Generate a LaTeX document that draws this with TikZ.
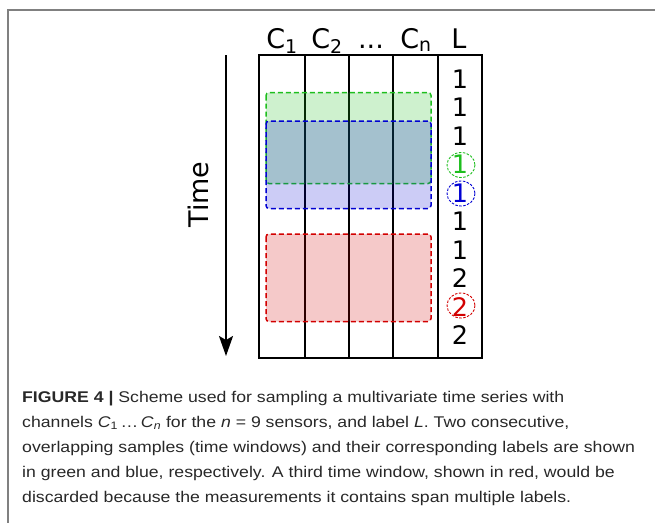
\documentclass[tikz,border=0pt]{standalone}
\usepackage{fontspec}
\setmainfont{DejaVu Sans}
\newfontfamily\capfont[FakeStretch=1.14]{Liberation Sans}
\usetikzlibrary{arrows.meta}
\definecolor{wgreen}{RGB}{30,190,30}
\definecolor{wblue}{RGB}{0,0,210}
\definecolor{wred}{RGB}{210,0,0}
\definecolor{framegray}{RGB}{128,128,128}
\definecolor{captext}{RGB}{40,40,40}
\begin{document}
\begin{tikzpicture}[x=1pt,y=-1pt,
  tablegrid/.style={line width=2.8pt, black},
  win/.style={rounded corners=3pt, line width=1.5pt, dash pattern=on 5pt off 3pt},
  hdr/.style={anchor=base, font=\fontsize{27}{27}\selectfont, inner sep=0pt},
  lab/.style={anchor=base, font=\fontsize{25.5}{25.5}\selectfont, inner sep=0pt},
  ring/.style={line width=0.9pt, dash pattern=on 2.5pt off 1.5pt},
  captionline/.style={anchor=base west, inner sep=0pt, font=\capfont\fontsize{15.5}{18}\selectfont, text=captext}
]
\useasboundingbox (0,0) rectangle (655,523);
% frame
\draw[framegray, line width=1.5pt] (655,10) -- (8,10) -- (8,523);

% table
\draw[tablegrid] (259,55) rectangle (482,358);
\foreach \x in {305,349,393,438} \draw[tablegrid] (\x,55) -- (\x,358);

% windows
\draw[win, draw=wgreen, fill=wgreen, fill opacity=0.22] (266,92.5) rectangle (431,183.5);
\draw[win, draw=wblue, fill=wblue, fill opacity=0.2] (266,121) rectangle (431,208.5);
\draw[win, draw=wred, fill=wred, fill opacity=0.21] (266,234) rectangle (431,321.5);

% headers
\node[hdr] (c1) at (282,48) {C\textsubscript{1}};
\node[hdr] (c2) at (327,48) {C\textsubscript{2}};
\node[hdr] (cdots) at (371,48) {...};
\node[hdr] (cn) at (416,48) {C\textsubscript{n}};
\node[hdr] (lh) at (459,48) {L};

% labels
\node[lab] (l1) at (460,88) {1};
\node[lab] (l2) at (460,116.5) {1};
\node[lab] (l3) at (460,145) {1};
\node[lab, text=wgreen] (l4) at (460,173.5) {1};
\node[lab, text=wblue] (l5) at (460,202) {1};
\node[lab] (l6) at (460,230.5) {1};
\node[lab] (l7) at (460,259) {1};
\node[lab] (l8) at (460,287.5) {2};
\node[lab, text=wred] (l9) at (460,316) {2};
\node[lab] (l10) at (460,344.5) {2};
\draw[ring, wgreen] (461,165) ellipse (14 and 12.5);
\draw[ring, wblue] (461,193.5) ellipse (14 and 12.5);
\draw[ring, wred] (461,305.5) ellipse (14 and 12.5);

% time axis
\node[anchor=base, rotate=90, font=\fontsize{27}{27}\selectfont, inner sep=0pt] (time) at (208,194.5) {Time};
\coordinate (tstart) at (226,55);
\coordinate (tend) at (226,356);
\draw[line width=2pt, -{Stealth[length=20pt,width=14pt,inset=4pt]}] (tstart) -- (tend);

% caption
\node[captionline] (cap1) at (22,402) {{\bfseries FIGURE 4 |} Scheme used for sampling a multivariate time series with};
\node[captionline] (cap2) at (22,427) {channels \textit{C}\textsubscript{1}\,\ldots\,\textit{C}\textsubscript{\textit{n}} for the \textit{n} = 9 sensors, and label \textit{L}. Two consecutive,};
\node[captionline] (cap3) at (22,452) {overlapping samples (time windows) and their corresponding labels are shown};
\node[captionline] (cap4) at (22,477) {in green and blue, respectively. A third time window, shown in red, would be};
\node[captionline] (cap5) at (22,502) {discarded because the measurements it contains span multiple labels.};
\end{tikzpicture}
\end{document}
